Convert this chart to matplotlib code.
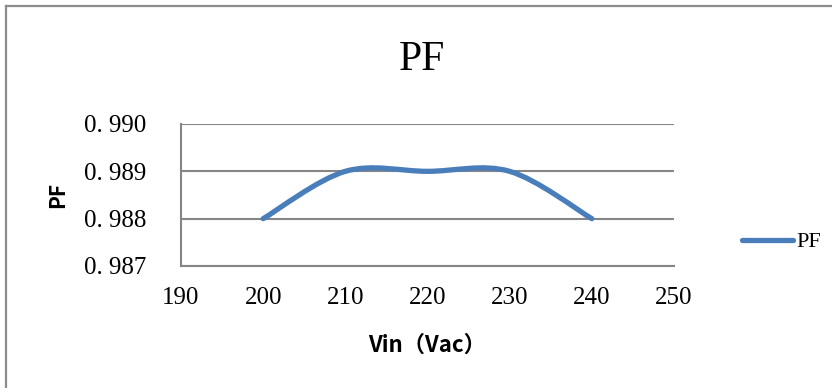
#!/usr/bin/env python3
"""PF vs input voltage, Excel-style smoothed line chart."""

import matplotlib

matplotlib.use("Agg")
import matplotlib.pyplot as plt
from matplotlib.lines import Line2D
from matplotlib.patches import PathPatch
from matplotlib.path import Path

# data
vin = [200, 210, 220, 230, 240]
pf = [0.988, 0.989, 0.989, 0.989, 0.988]
x_ticks = [190, 200, 210, 220, 230, 240, 250]
y_ticks = [0.987, 0.988, 0.989, 0.990]
y_tick_labels = ["0. 987", "0. 988", "0. 989", "0. 990"]

BLUE = "#4A7EBB"
GRID = "#868686"
SERIF = ["Liberation Serif", "DejaVu Serif"]
SANS = ["Noto Sans CJK SC", "DejaVu Sans"]


def smooth_path(xs, ys):
    """Bezier path through the points, like Excel's smoothed line."""
    pts = list(zip(xs, ys))
    n = len(pts)
    verts = [pts[0]]
    codes = [Path.MOVETO]
    for i in range(n - 1):
        p0 = pts[max(i - 1, 0)]
        p1 = pts[i]
        p2 = pts[i + 1]
        p3 = pts[min(i + 2, n - 1)]
        c1 = (p1[0] + (p2[0] - p0[0]) / 6, p1[1] + (p2[1] - p0[1]) / 6)
        c2 = (p2[0] - (p3[0] - p1[0]) / 6, p2[1] - (p3[1] - p1[1]) / 6)
        verts += [c1, c2, p2]
        codes += [Path.CURVE4] * 3
    return Path(verts, codes)


W, H = 832, 388
fig = plt.figure(figsize=(W / 100, H / 100), dpi=100)
ax = fig.add_axes([181 / W, 1 - 266 / H, (674 - 181) / W, (266 - 124) / H])

ax.set_xlim(190, 250)
ax.set_ylim(0.987, 0.990)
ax.set_xticks(x_ticks)
ax.set_yticks(y_ticks)
ax.set_yticklabels(y_tick_labels)
ax.tick_params(axis="both", length=0, labelsize=18)
ax.tick_params(axis="y", pad=25)
ax.tick_params(axis="x", pad=15)
for lbl in ax.get_xticklabels() + ax.get_yticklabels():
    lbl.set_family(SERIF)

ax.grid(axis="y", color=GRID, linewidth=1.5)
ax.set_axisbelow(True)
for side in ["top", "right"]:
    ax.spines[side].set_visible(False)
for side in ["left", "bottom"]:
    ax.spines[side].set_color(GRID)
    ax.spines[side].set_linewidth(1.5)

patch = PathPatch(smooth_path(vin, pf), facecolor="none", edgecolor=BLUE,
                  linewidth=3.8, capstyle="round", joinstyle="round", zorder=3)
ax.add_patch(patch)

ax.set_ylabel("PF", family=SANS, fontweight="bold", fontsize=15, labelpad=11)
ax.set_xlabel("Vin（Vac）", family=SANS, fontweight="bold", fontsize=16, labelpad=18)
fig.text(422 / W, 1 - 60 / H, "PF", family=SERIF, fontsize=30,
         ha="center", va="center")

handle = Line2D([], [], color=BLUE, linewidth=3.8, solid_capstyle="round")
leg = fig.legend([handle], ["PF"], loc="center left",
                 bbox_to_anchor=(731 / W, 1 - 242 / H), frameon=False,
                 borderpad=0, handlelength=2.3, handletextpad=0.12,
                 prop={"family": SERIF, "size": 16})

# chart-area border (only top and left visible in the crop)
fig.add_artist(Line2D([6 / W, 6 / W], [0, 1 - 6 / H], transform=fig.transFigure,
                      color="#8C8C8C", linewidth=1.6))
fig.add_artist(Line2D([6 / W, 1], [1 - 6 / H, 1 - 6 / H], transform=fig.transFigure,
                      color="#8C8C8C", linewidth=1.6))

fig.savefig("out.png", dpi=100)
